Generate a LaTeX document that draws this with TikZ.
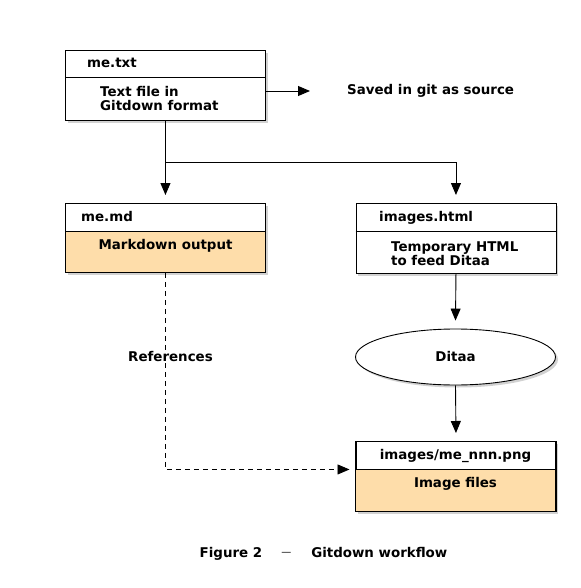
\documentclass[tikz,border=0pt]{standalone}
\usepackage{fontspec}
\setmainfont{DejaVu Sans}
\usetikzlibrary{arrows.meta,shapes.geometric,shadows}
\definecolor{peach}{RGB}{254,221,170}
\begin{document}
\begin{tikzpicture}[x=1pt,y=-1pt,
  font=\fontsize{13.4}{14}\selectfont\bfseries,
  every node/.style={inner sep=0pt},
  shad/.style={drop shadow={shadow xshift=2.5pt,shadow yshift=-2.5pt,fill=black!35}},
  filebox/.style={draw,line width=0.9pt,fill=white,shad,minimum width=200pt,minimum height=70pt,anchor=north west},
  outline/.style={draw,line width=0.9pt},
  lbl/.style={text height=10pt,text depth=2pt},
  arr/.style={line width=0.9pt,-{Triangle[length=12pt,width=10pt]}},
  dsh/.style={line width=0.9pt,dash pattern=on 5pt off 4pt,-{Triangle[length=12pt,width=10pt]}}]
\useasboundingbox (0,0) rectangle (580,588);

% me.txt
\node[filebox] (mtxt) at (65,50) {};
\draw[outline] (65,77) -- (265,77);
\node[lbl,anchor=west] (mtxtl) at (87,63.5) {me.txt};
\node[anchor=west,align=left] (mtxtb) at (100,98.5) {Text file in\\Gitdown format};

% me.md
\node[filebox,minimum height=69pt] (md) at (65,203) {};
\fill[peach] (65,231) rectangle (265,272);
\draw[outline] (65,231) -- (265,231);
\draw[outline] (65,203) rectangle (265,272);
\node[lbl,anchor=west] (mdl) at (81,217) {me.md};
\node[lbl] (mdb) at (165.5,245) {Markdown output};

% images.html
\node[filebox] (html) at (355.5,203) {};
\draw[outline] (355.5,231) -- (555.5,231);
\node[lbl,anchor=west] (htmll) at (379,217) {images.html};
\node[anchor=west,align=left] (htmlb) at (391,254) {Temporary HTML\\to feed Ditaa};

% Ditaa
\node[ellipse,draw,line width=0.9pt,fill=white,shad,minimum width=200pt,minimum height=56pt,lbl] (ditaa) at (455.5,357) {Ditaa};

% images/me_nnn.png
\node[filebox] (png) at (355.5,441) {};
\fill[peach] (355.5,469) rectangle (555.5,511);
\draw[outline] (355.5,469) -- (555.5,469);
\draw[outline] (355.5,441) rectangle (555.5,511);
\node[lbl] (pngl) at (455.5,455) {images/me\_nnn.png};
\node[lbl] (pngb) at (455.5,483) {Image files};

% labels
\node[lbl,anchor=west] (saved) at (347,91) {Saved in git as source};
\node[lbl] (refs) at (170.5,357) {References};
\node[lbl] (cap) at (323.5,553) {Figure 2\hspace{19pt}\mdseries\raisebox{1.2pt}{\fontsize{10}{10}\selectfont —}\hspace{20pt}\bfseries Gitdown workflow};

% connectors
\coordinate (br) at (165,162);
\draw[arr] (mtxt.east |- saved.west) -- ([xshift=-37pt]saved.west);
\draw[arr] (mtxt.south) -- ([yshift=8pt]md.north);
\draw[arr] (br) -| ([yshift=8pt]html.north);
\draw[arr] (html.south) -- ([yshift=8pt]ditaa.north);
\draw[arr] (ditaa.south) -- ([yshift=8pt]png.north);
\draw[dsh] (md.south) |- ([xshift=-6pt,yshift=7pt]png.west);
\end{tikzpicture}
\end{document}
